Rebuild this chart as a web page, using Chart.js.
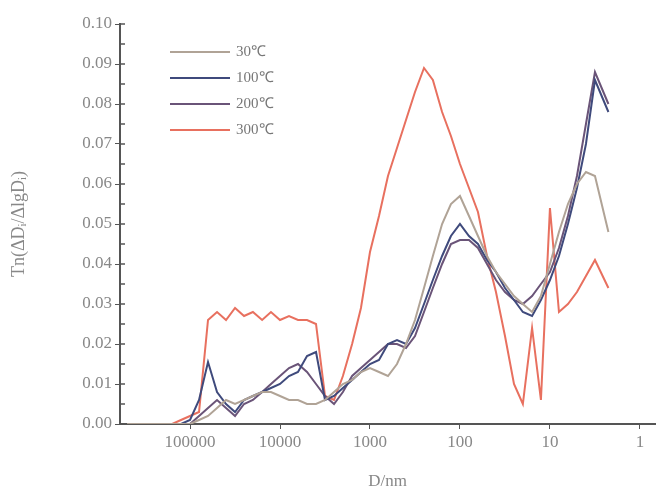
<script src="https://cdn.jsdelivr.net/npm/chart.js"></script>

<style>
  body { margin: 0; background: #fff; }
  #wrap { width: 657px; height: 496px; }
</style>

<div id="wrap"><canvas id="myChart"></canvas></div>

<script>
// -- Particle diameter (nm), shared grid for all curves.
const diameters = [
  501000, 398000, 316000, 251000, 200000, 158000, 126000, 100000, 79400, 63100,
  50100, 39800, 31600, 25100, 20000, 15800, 12600, 10000, 7940, 6310,
  5010, 3980, 3160, 2510, 2000, 1580, 1260, 1000, 794, 631,
  501, 398, 316, 251, 200, 158, 126, 100, 79.4, 63.1,
  50.1, 39.8, 31.6, 25.1, 20.0, 15.8, 12.6, 10.0, 7.94, 6.31,
  5.01, 3.98, 3.16, 2.24
];

const series_labels = ['30℃', '100℃', '200℃', '300℃'];
const series_colors = ['#b0a396', '#3f4a7c', '#6a5478', '#e8705f'];

const values_30 = [
  0, 0, 0, 0, 0, 0, 0, 0, 0.001, 0.002,
  0.004, 0.006, 0.005, 0.006, 0.007, 0.008, 0.008, 0.007, 0.006, 0.006,
  0.005, 0.005, 0.006, 0.008, 0.010, 0.011, 0.013, 0.014, 0.013, 0.012,
  0.015, 0.020, 0.026, 0.034, 0.042, 0.050, 0.055, 0.057, 0.052, 0.047,
  0.042, 0.038, 0.035, 0.032, 0.030, 0.028, 0.032, 0.040, 0.048, 0.055,
  0.060, 0.063, 0.062, 0.048
];

const values_100 = [
  0, 0, 0, 0, 0, 0, 0, 0.001, 0.006, 0.0155,
  0.008, 0.005, 0.003, 0.006, 0.007, 0.008, 0.009, 0.010, 0.012, 0.013,
  0.017, 0.018, 0.006, 0.007, 0.009, 0.011, 0.013, 0.015, 0.016, 0.020,
  0.021, 0.020, 0.024, 0.030, 0.036, 0.042, 0.047, 0.050, 0.047, 0.045,
  0.041, 0.038, 0.034, 0.031, 0.028, 0.027, 0.031, 0.036, 0.042, 0.050,
  0.059, 0.070, 0.086, 0.078
];

const values_200 = [
  0, 0, 0, 0, 0, 0, 0, 0, 0.002, 0.004,
  0.006, 0.004, 0.002, 0.005, 0.006, 0.008, 0.010, 0.012, 0.014, 0.015,
  0.013, 0.010, 0.007, 0.005, 0.008, 0.012, 0.014, 0.016, 0.018, 0.020,
  0.020, 0.019, 0.022, 0.028, 0.034, 0.040, 0.045, 0.046, 0.046, 0.044,
  0.040, 0.036, 0.033, 0.031, 0.030, 0.032, 0.035, 0.038, 0.044, 0.052,
  0.062, 0.075, 0.088, 0.080
];

const values_300 = [
  0, 0, 0, 0, 0, 0, 0.001, 0.002, 0.003, 0.026,
  0.028, 0.026, 0.029, 0.027, 0.028, 0.026, 0.028, 0.026, 0.027, 0.026,
  0.026, 0.025, 0.007, 0.006, 0.012, 0.020, 0.029, 0.043, 0.052, 0.062,
  0.069, 0.076, 0.083, 0.089, 0.086, 0.078, 0.072, 0.065, 0.059, 0.053,
  0.042, 0.033, 0.022, 0.010, 0.005, 0.024, 0.006, 0.054, 0.028, 0.030,
  0.033, 0.037, 0.041, 0.034
];

const x_ticks = [1, 10, 100, 1000, 10000, 100000];

const all_values = [values_30, values_100, values_200, values_300];

// -- Legend drawn inside the plot area, top left.
const inner_legend = {
  id: 'inner_legend',
  afterDatasetsDraw(chart) {
    const ctx = chart.ctx;
    ctx.save();
    ctx.font = '15px "Liberation Serif"';
    ctx.textBaseline = 'middle';
    chart.data.datasets.forEach((ds, i) => {
      const y = 52 + i * 26;
      ctx.strokeStyle = ds.borderColor;
      ctx.lineWidth = 2;
      ctx.beginPath();
      ctx.moveTo(170, y);
      ctx.lineTo(230, y);
      ctx.stroke();
      ctx.fillStyle = '#777';
      ctx.fillText(ds.label, 236, y);
    });
    ctx.restore();
  }
};

// -- Small inward ticks on the y axis (major + half steps).
const inner_ticks = {
  id: 'inner_ticks',
  afterDraw(chart) {
    const {ctx, scales: {y}, chartArea} = chart;
    ctx.save();
    ctx.strokeStyle = '#555';
    ctx.lineWidth = 1.5;
    for (let v = 0; v <= 0.1001; v += 0.005) {
      const py = y.getPixelForValue(v);
      ctx.beginPath();
      ctx.moveTo(chartArea.left, py);
      ctx.lineTo(chartArea.left + 5, py);
      ctx.stroke();
    }
    ctx.restore();
  }
};

new Chart(document.getElementById('myChart'), {
  type: 'line',
  data: {
    datasets: all_values.map((vals, i) => ({
      label: series_labels[i],
      data: diameters.map((d, j) => ({x: d, y: vals[j]})),
      borderColor: series_colors[i],
      borderWidth: 2,
      pointRadius: 0,
      tension: 0,
    })),
  },
  options: {
    responsive: true,
    maintainAspectRatio: false,
    animation: false,
    layout: {padding: {left: 4, top: 24, right: 2, bottom: 0}},
    plugins: {legend: {display: false}, tooltip: {enabled: false}},
    scales: {
      x: {
        type: 'logarithmic',
        reverse: true,
        min: 0.68,
        max: 600000,
        afterBuildTicks: (scale) => { scale.ticks = x_ticks.map(v => ({value: v})); },
        afterFit: (scale) => { scale.height = 72; },
        border: {color: '#555', width: 2},
        grid: {drawOnChartArea: false, tickLength: 5, color: '#555'},
        ticks: {
          color: '#888',
          font: {family: 'Liberation Serif', size: 17},
          maxRotation: 0,
          autoSkip: false,
          callback: (v) => String(v),
        },
        title: {display: true, text: 'D/nm', color: '#888', font: {family: 'Liberation Serif', size: 17}},
      },
      y: {
        min: 0,
        max: 0.10,
        afterFit: (scale) => { scale.width = 116; },
        border: {color: '#555', width: 2},
        grid: {drawOnChartArea: false, tickLength: 5, color: '#555'},
        ticks: {
          stepSize: 0.01,
          color: '#888',
          font: {family: 'Liberation Serif', size: 17},
          callback: (v) => v.toFixed(2),
        },
        title: {display: true, text: 'Tn(ΔD\u1d62/ΔlgD\u1d62)', color: '#888', font: {family: 'Liberation Serif', size: 18}},
      },
    },
  },
  plugins: [inner_legend, inner_ticks],
});
</script>
